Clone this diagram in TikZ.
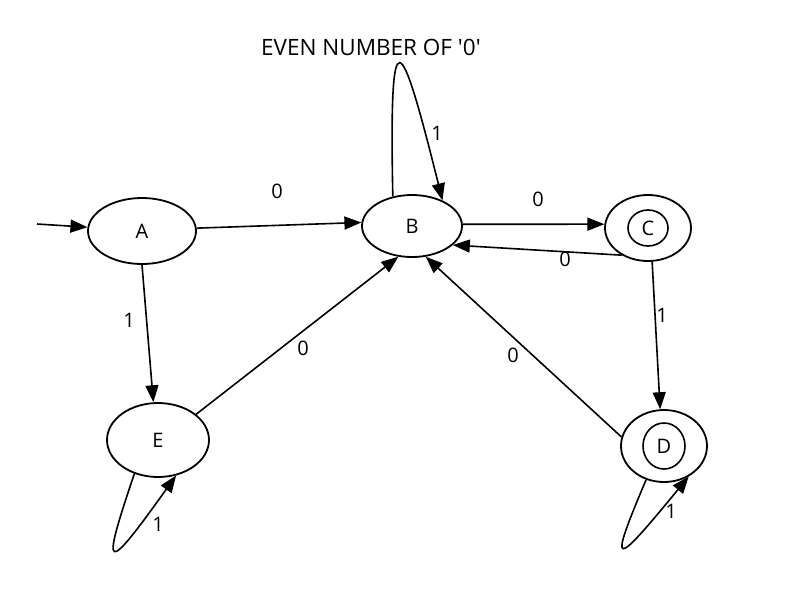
\documentclass[tikz,border=0pt]{standalone}
\usepackage{fontspec}
\setmainfont{Open Sans}
\usetikzlibrary{shapes.geometric,arrows.meta}
\begin{document}
\begin{tikzpicture}[x=1pt,y=-1pt,
  state/.style={ellipse,draw,line width=1.8pt,inner sep=0pt,font=\fontsize{20}{22}\selectfont},
  edge/.style={line width=1.6pt,-{Triangle[length=17pt,width=13pt]}},
  lbl/.style={font=\fontsize{20}{22}\selectfont,inner sep=0pt}]
\useasboundingbox[fill=white] (0,0) rectangle (800,600);
\node[state,minimum width=108pt,minimum height=66pt] (A) at (142,231) {A};
\node[state,minimum width=100pt,minimum height=62pt] (B) at (412,226) {B};
\node[state,minimum width=86pt,minimum height=66pt] (C) at (648,228) {C};
\node[state,minimum width=86pt,minimum height=72pt] (D) at (664,446) {D};
\node[state,minimum width=102pt,minimum height=74pt] (E) at (158,440) {E};
\draw[line width=1.6pt] (C.center) ellipse [x radius=20,y radius=18];
\draw[line width=1.6pt] (D.center) ellipse [x radius=21,y radius=23];
\node[lbl,font=\fontsize{22.5}{25}\selectfont] (title) at (371,47) {EVEN NUMBER OF \textquotesingle0\textquotesingle};
\coordinate (start) at (37,224);
\draw[edge] (start) -- (A.176);
\draw[edge] (A.3) -- (B.176);
\draw[edge] (B.2) -- (C.175);
\draw[edge] (C.226) -- (B.335);
\draw[edge] (A.270) -- (E.97);
\draw[edge] (E.34) -- (B.246);
\draw[edge] (D.168) -- (B.294);
\draw[edge] (C.277) -- (D.96);
\draw[edge] (B.123) .. controls (389,10) and (400,30) .. (B.40);
\draw[edge] (E.235) .. controls (100,575) and (105,575) .. (E.297);
\draw[edge] (D.242) .. controls (608,570) and (612,570) .. (D.309);
\node[lbl] (l1) at (277,191) {0};
\node[lbl] (l2) at (538,199) {0};
\node[lbl] (l3) at (565,259) {0};
\node[lbl] (l4) at (129,320) {1};
\node[lbl] (l5) at (303,348) {0};
\node[lbl] (l6) at (513,355) {0};
\node[lbl] (l7) at (662,315) {1};
\node[lbl] (l8) at (437,133) {1};
\node[lbl] (l9) at (158,524) {1};
\node[lbl] (l10) at (671,511) {1};
\end{tikzpicture}
\end{document}
